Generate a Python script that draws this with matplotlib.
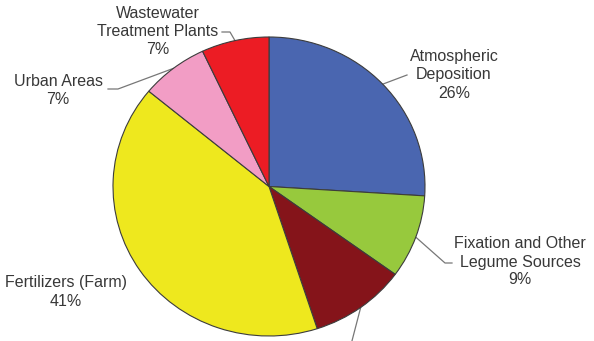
import matplotlib.pyplot as plt
import numpy as np

plt.rcParams['font.family'] = ['Liberation Sans', 'DejaVu Sans']

# nitrogen sources, clockwise from 12 o'clock
sources = ['Atmospheric\nDeposition', 'Fixation and Other\nLegume Sources', '',
           'Fertilizers (Farm)', 'Urban Areas', 'Wastewater\nTreatment Plants']
shares = [26, 9, 10, 41, 7, 7]
colors = ['#4a66b0', '#97c93d', '#85141a', '#eee81e', '#f29dc5', '#ec1c24']

W, H = 594, 341
fig = plt.figure(figsize=(W / 100, H / 100), dpi=100)

# pie box in pixels (slightly wider than tall)
cx, cy, rx, ry = 269, 186.5, 156, 149.5
ax = fig.add_axes([(cx - rx) / W, (H - cy - ry) / H, 2 * rx / W, 2 * ry / H])

wedges, _ = ax.pie(shares, colors=colors, startangle=90, counterclock=False,
                   wedgeprops=dict(edgecolor='#3c3c3c', linewidth=0.8))
ax.set_aspect('auto')
ax.set_xlim(-1, 1)
ax.set_ylim(-1, 1)
for w in wedges:
    w.set_clip_on(False)


def to_data(px, py):
    return (px - cx) / rx, (cy - py) / ry


def mid(w):
    a = np.deg2rad((w.theta1 + w.theta2) / 2)
    return np.cos(a), np.sin(a)


def leader(w, pts):
    x0, y0 = mid(w)
    xs = [x0] + [to_data(*p)[0] for p in pts]
    ys = [y0] + [to_data(*p)[1] for p in pts]
    ax.plot(xs, ys, color='#777777', lw=0.9, clip_on=False, zorder=0)


def label(i, px, py):
    txt = sources[i] + '\n' + f'{shares[i]}%'
    fig.text(px / W, 1 - py / H, txt, ha='center', va='center', fontsize=11.5,
             color='#383838', linespacing=1.25)


label(0, 454, 75)
leader(wedges[0], [(407, 75)])

label(1, 520, 262)
leader(wedges[1], [(445, 263), (452, 263)])

# leader for the bottom slice runs off the canvas
leader(wedges[2], [(347, 360)])

label(3, 66, 292)

label(4, 58, 90)
leader(wedges[4], [(118, 89), (108, 89)])

label(5, 158, 32)
leader(wedges[5], [(230, 32), (222, 32)])

fig.savefig('out.png', dpi=100)
